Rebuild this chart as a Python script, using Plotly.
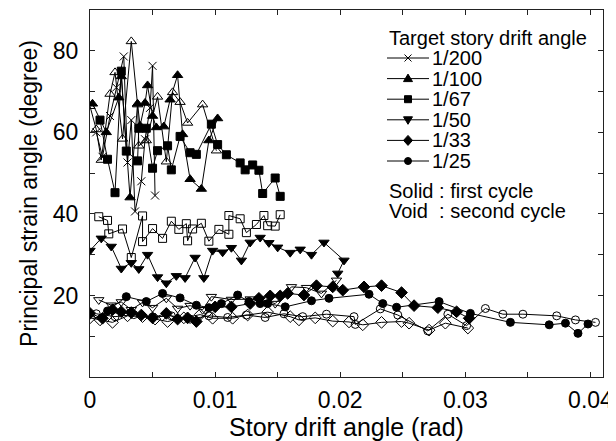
import plotly.graph_objects as go

# ---------------- data ----------------
series_names = ["1/200", "1/100", "1/67", "1/50", "1/33", "1/25"]

x200 = [0.0005, 0.001, 0.0016, 0.0021, 0.0027, 0.003, 0.0033, 0.0036, 0.0041, 0.0044, 0.0048, 0.005, 0.0052]
y200 = [60, 54, 64, 71, 78.6, 52.6, 63, 40.6, 48, 58.3, 66, 76.3, 44.5]

x100_first = [0.0002, 0.0013, 0.0023, 0.0025, 0.0032, 0.0038, 0.004, 0.0044, 0.0046, 0.005, 0.0053, 0.0059, 0.0064, 0.007, 0.0074, 0.008, 0.0089, 0.0095, 0.0102]
y100_first = [67, 60, 68.5, 73.7, 44, 67, 61.6, 67.2, 71.5, 64, 61.2, 61.4, 68, 74, 59.5, 48.5, 46.1, 58, 63.4]
x100_second = [0.0, 0.0005, 0.0009, 0.0016, 0.002, 0.0026, 0.0033, 0.0038, 0.0039, 0.0045, 0.0054, 0.0061, 0.0066, 0.0072, 0.0078, 0.009, 0.0101]
y100_second = [66.4, 60.7, 53.2, 69.4, 74.7, 58.4, 82.3, 66.8, 56.7, 58, 68.7, 52.8, 69.8, 67.4, 62.3, 66.8, 55.5]

x67_first = [0.0008, 0.0014, 0.002, 0.0025, 0.0029, 0.0038, 0.0039, 0.0045, 0.005, 0.0054, 0.0062, 0.0065, 0.0072, 0.008, 0.0085, 0.0097, 0.0102, 0.0109, 0.012, 0.0124, 0.013, 0.0135, 0.0138, 0.0148, 0.0152]
y67_first = [63, 53.4, 45.2, 75, 55.4, 53, 61, 61, 51.2, 55.5, 56.7, 50.8, 59, 55, 54.6, 62, 57, 54.5, 52.5, 50.8, 52, 50.7, 45, 48.8, 44.3]
x67_second = [0.0007, 0.0014, 0.0015, 0.0026, 0.0033, 0.0042, 0.0042, 0.005, 0.0058, 0.0065, 0.0071, 0.0077, 0.0078, 0.0082, 0.0089, 0.0095, 0.0103, 0.0111, 0.0111, 0.012, 0.0125, 0.0133, 0.0139, 0.0142, 0.0148, 0.0152]
y67_second = [39.3, 38.4, 35.1, 36.3, 29.3, 39.5, 33.2, 36.4, 34, 38.2, 36.2, 37.6, 33.4, 36.3, 37.7, 33.3, 36.2, 35, 39.6, 38.8, 35.4, 37.4, 39.6, 37.1, 37, 39.8]

x50_first = [0.0, 0.0009, 0.0017, 0.0025, 0.0033, 0.0039, 0.0046, 0.0054, 0.0061, 0.0069, 0.0076, 0.0084, 0.0091, 0.0098, 0.0106, 0.0113, 0.0121, 0.0128, 0.0136, 0.0143, 0.015, 0.016, 0.0168, 0.0177, 0.0187, 0.0203, 0.0198]
y50_first = [31, 34, 32, 26.6, 28, 26.5, 30, 24.5, 23, 24.8, 24.3, 29.3, 24.3, 31, 30.6, 31.7, 28.6, 33, 34.2, 32.9, 31.8, 30.5, 31.3, 30, 33, 28.6, 25.4]
x50_second = [0.0007, 0.0017, 0.0025, 0.0033, 0.0042, 0.005, 0.0061, 0.007, 0.008, 0.009, 0.0097, 0.0113, 0.0128, 0.0136, 0.0148, 0.0161, 0.0173, 0.0185, 0.0197]
y50_second = [18.9, 17.6, 18.4, 16.5, 18.3, 17, 19.3, 16.8, 17.5, 16.5, 19.7, 19, 19.1, 19.1, 18, 22.1, 21.9, 20.5, 23.7]

x33_first = [0.0, 0.001, 0.0018, 0.0025, 0.0033, 0.0041, 0.005, 0.0061, 0.007, 0.0078, 0.0085, 0.01, 0.0113, 0.0128, 0.0135, 0.0144, 0.0152, 0.0158, 0.0171, 0.0181, 0.0194, 0.0202, 0.0219, 0.0233, 0.0249, 0.0259, 0.0278, 0.0293, 0.0303]
y33_first = [15.6, 14.4, 16.5, 16, 15.8, 15.2, 14.5, 15.6, 14.2, 14.5, 13.6, 17.2, 17.2, 18, 19.3, 19.9, 19.9, 20.5, 20.1, 22.4, 22.1, 21.3, 22.1, 22.4, 20.7, 17.5, 17, 16, 14.4]
x33_second = [0.0, 0.0008, 0.0018, 0.003, 0.0042, 0.0052, 0.0062, 0.0075, 0.0088, 0.0098, 0.0114, 0.0126, 0.0142, 0.016, 0.0167, 0.018, 0.0194, 0.0207, 0.0218, 0.0233, 0.0249, 0.0255, 0.0271, 0.0284, 0.0302]
y33_second = [14.5, 14, 13.4, 15, 14.8, 14.2, 13.6, 14.5, 15.3, 14.4, 14.4, 15.2, 15.9, 14.8, 14, 14.5, 13.7, 13.5, 12.8, 13.4, 13.6, 13.2, 11.5, 13.2, 12]

x25_first = [0.0014, 0.0029, 0.0045, 0.0058, 0.0072, 0.0085, 0.0095, 0.0105, 0.0118, 0.0127, 0.0136, 0.0142, 0.0156, 0.0177, 0.0191, 0.0223, 0.0234, 0.0245, 0.0279, 0.0304, 0.0336, 0.0367, 0.038, 0.039, 0.0398]
y25_first = [16.2, 19.7, 18.5, 20.5, 19.4, 17.6, 17, 18, 20.1, 18.5, 18, 18, 17.2, 18.7, 19.3, 20.3, 18, 17.1, 18.5, 15.6, 13.4, 12.8, 13.2, 10.7, 13]
x25_second = [0.0005, 0.002, 0.0035, 0.005, 0.0065, 0.008, 0.0095, 0.011, 0.0125, 0.014, 0.0155, 0.017, 0.0189, 0.0211, 0.0212, 0.0232, 0.0246, 0.027, 0.0286, 0.0301, 0.0316, 0.033, 0.0346, 0.0373, 0.0388, 0.0404]
y25_second = [15.5, 14.8, 15.3, 14.7, 15, 14.2, 15, 14.6, 15.2, 14.6, 15.5, 14.8, 15.4, 14.8, 12.9, 16.7, 15.2, 11.3, 15.4, 12.6, 16.8, 15.4, 15.4, 15, 14, 13.4]

x_tick_vals = [0, 0.01, 0.02, 0.03, 0.04]
x_tick_text = ["0", "0.01", "0.02", "0.03", "0.04"]
x_minor_vals = [0.005, 0.015, 0.025, 0.035]
y_tick_vals = [20, 40, 60, 80]
y_tick_text = ["20", "40", "60", "80"]
y_minor_vals = [10, 30, 50, 70, 90]

# ---------------- figure ----------------
FONT = "Arial, Liberation Sans, sans-serif"
BLACK = "#000000"

fig = go.Figure()

def add(x, y, symbol, size, name):
    fig.add_trace(go.Scatter(
        x=x, y=y, mode="lines+markers", name=name, showlegend=False,
        line=dict(color=BLACK, width=1),
        marker=dict(symbol=symbol, size=size, color=BLACK,
                    line=dict(color=BLACK, width=1)),
    ))

add(x25_second, y25_second, "circle-open", 8, "1/25 second")
add(x33_second, y33_second, "diamond-open", 9, "1/33 second")
add(x50_second, y50_second, "triangle-down-open", 9, "1/50 second")
add(x25_first, y25_first, "circle", 8, "1/25 first")
add(x33_first, y33_first, "diamond", 9, "1/33 first")
add(x50_first, y50_first, "triangle-down", 9, "1/50 first")
add(x67_second, y67_second, "square-open", 8, "1/67 second")
add(x67_first, y67_first, "square", 8, "1/67 first")
add(x100_second, y100_second, "triangle-up-open", 9, "1/100 second")
add(x100_first, y100_first, "triangle-up", 9, "1/100 first")
add(x200, y200, "x-thin", 8, "1/200")

# plot-area geometry (pixels) used to place legend decorations
W, H = 616, 441
ML, MR, MT, MB = 82, 21, 2, 72
PW, PH = W - ML - MR, H - MT - MB

def px(xp):
    return (xp - ML) / PW

def py(yp):
    return (H - MB - yp) / PH

ann = []
shapes = []
LEG_FONT = dict(family=FONT, size=20, color=BLACK)
ann.append(dict(text="Target story drift angle", x=px(379), y=py(30), xref="paper", yref="paper",
                xanchor="left", yanchor="middle", showarrow=False, font=LEG_FONT))

glyphs = [
    ("path", "M-3.5,-3.5L3.5,3.5M-3.5,3.5L3.5,-3.5", False),
    ("path", "M-4.5,-3L4.5,-3L0,4.5Z", True),
    ("path", "M-3.5,-3.5L3.5,-3.5L3.5,3.5L-3.5,3.5Z", True),
    ("path", "M-4.5,3L4.5,3L0,-4.5Z", True),
    ("path", "M0,5L4.5,0L0,-5L-4.5,0Z", True),
    ("circle", None, True),
]
for i, name in enumerate(series_names):
    yc = 50 + i * 20.6
    shapes.append(dict(type="line", xref="paper", yref="paper", x0=px(379), x1=px(421),
                       y0=py(yc), y1=py(yc), line=dict(color=BLACK, width=1)))
    kind, path, filled = glyphs[i]
    if kind == "path":
        shapes.append(dict(type="path", xref="paper", yref="paper", xsizemode="pixel",
                           ysizemode="pixel", xanchor=px(400), yanchor=py(yc), path=path,
                           fillcolor=BLACK if filled else "rgba(0,0,0,0)",
                           line=dict(color=BLACK, width=1)))
    else:
        shapes.append(dict(type="circle", xref="paper", yref="paper", xsizemode="pixel",
                           ysizemode="pixel", xanchor=px(400), yanchor=py(yc),
                           x0=-3.5, x1=3.5, y0=-3.5, y1=3.5, fillcolor=BLACK,
                           line=dict(color=BLACK, width=1)))
    ann.append(dict(text=name, x=px(422), y=py(yc), xref="paper", yref="paper",
                    xanchor="left", yanchor="middle", showarrow=False, font=LEG_FONT))

ann.append(dict(text="Solid : first cycle", x=px(379), y=py(183), xref="paper", yref="paper",
                xanchor="left", yanchor="middle", showarrow=False, font=LEG_FONT))
ann.append(dict(text="Void\u00a0 : second cycle", x=px(379), y=py(203), xref="paper", yref="paper",
                xanchor="left", yanchor="middle", showarrow=False, font=LEG_FONT))

axis_common = dict(
    showgrid=False, zeroline=False, showline=True, linecolor="#222222", linewidth=1.2,
    mirror="ticks", ticks="inside", ticklen=5, tickcolor="#222222", tickwidth=1,
    tickfont=dict(family=FONT, size=23, color=BLACK),
)

fig.update_xaxes(
    range=[0, 0.041], tickmode="array", tickvals=x_tick_vals, ticktext=x_tick_text,
    minor=dict(tickmode="array", tickvals=x_minor_vals, ticks="inside", ticklen=5,
               tickcolor="#222222", tickwidth=1),
    ticklabelstandoff=2,
    title=dict(text="Story drift angle (rad)", font=dict(family=FONT, size=25, color=BLACK),
               standoff=2),
    **axis_common,
)
fig.update_yaxes(
    range=[0, 90], tickmode="array", tickvals=y_tick_vals, ticktext=y_tick_text,
    minor=dict(tickmode="array", tickvals=y_minor_vals, ticks="inside", ticklen=5,
               tickcolor="#222222", tickwidth=1),
    ticklabelstandoff=6,
    title=dict(text="Principal strain angle (degree)", font=dict(family=FONT, size=23, color=BLACK),
               standoff=8),
    **axis_common,
)

fig.update_layout(
    width=W, height=H, autosize=False,
    margin=dict(l=ML, r=MR, t=MT, b=MB, pad=0),
    paper_bgcolor="white", plot_bgcolor="white",
    showlegend=False,
    annotations=ann, shapes=shapes,
    font=dict(family=FONT, color=BLACK),
)

fig.write_html("out.html")
